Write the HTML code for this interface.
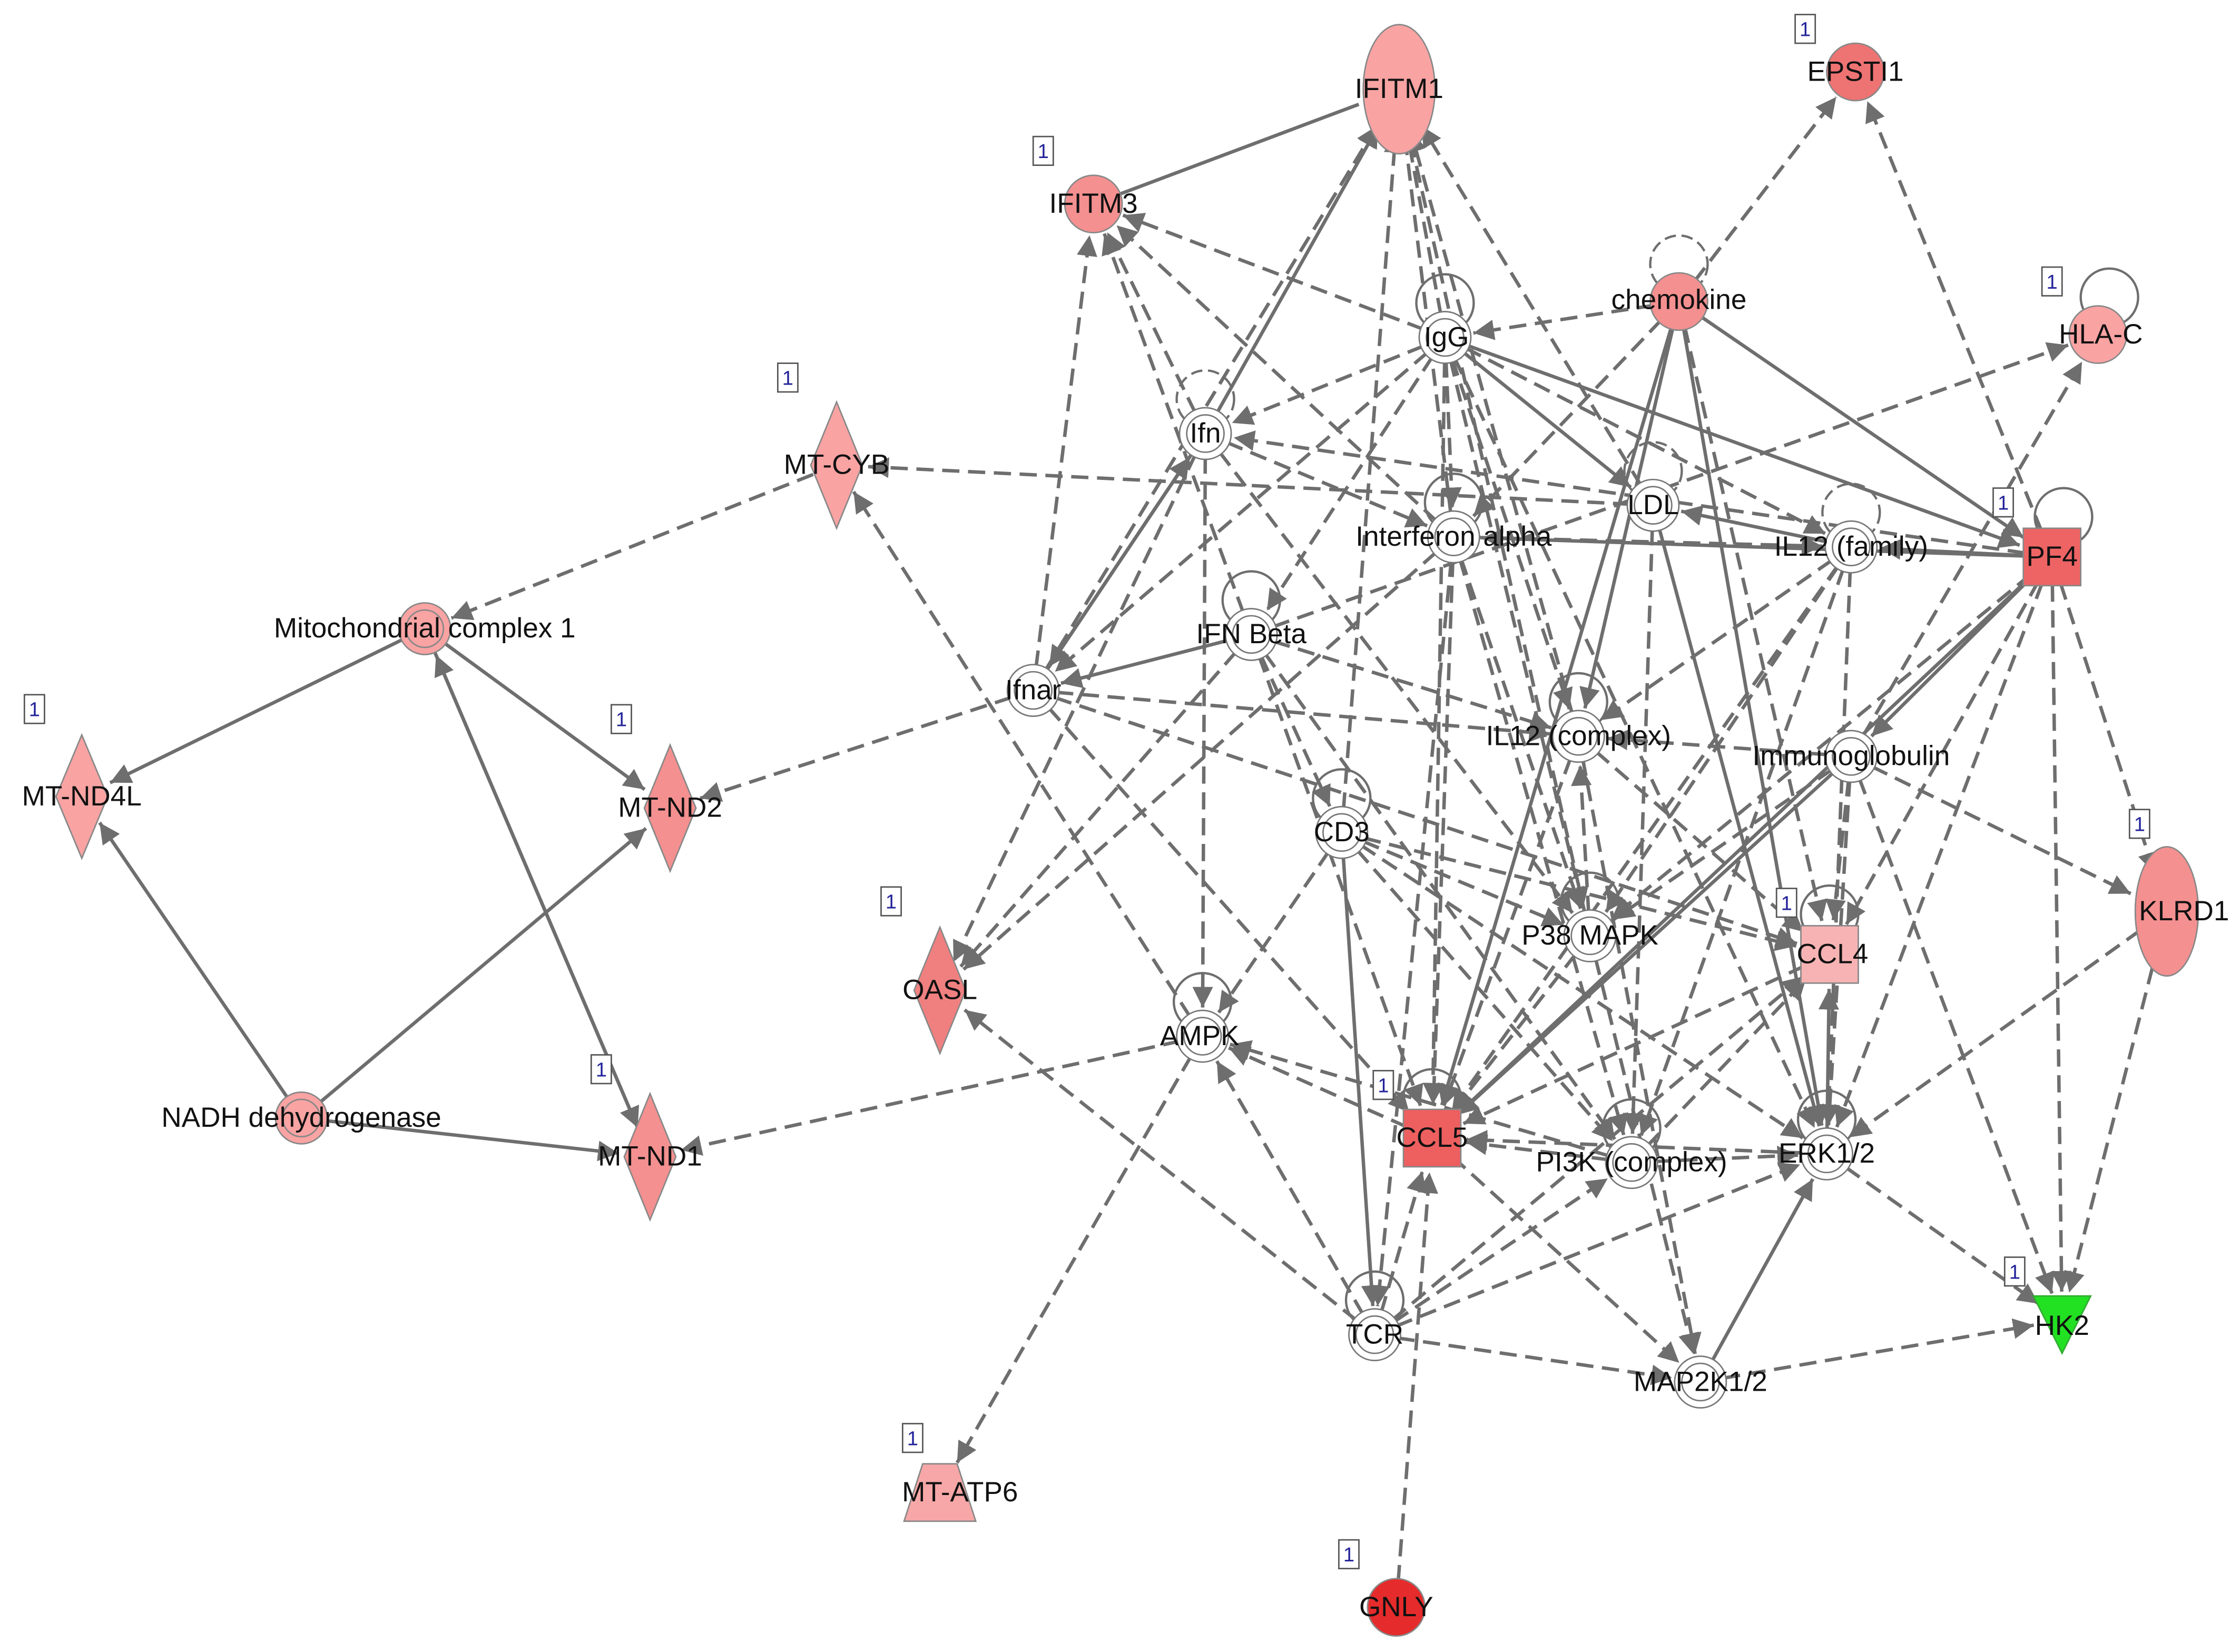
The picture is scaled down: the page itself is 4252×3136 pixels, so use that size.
<!DOCTYPE html>
<html><head><meta charset="utf-8">
<style>
html,body{margin:0;padding:0;background:#fff;}
svg{display:block;}
text{font-family:"Liberation Sans",Arial,sans-serif;}
.lb{font-size:19.5px;fill:#111;text-anchor:middle;dominant-baseline:middle;}
</style></head><body>
<svg id="s" width="4252" height="3136" viewBox="0 0 1561 1151" xmlns="http://www.w3.org/2000/svg" style="position:absolute;left:0;top:0">
<defs>
<marker id="a" viewBox="0 0 10 10" refX="10" refY="5" markerWidth="6" markerHeight="6" markerUnits="strokeWidth" orient="auto"><path d="M0,0 L10,5 L0,10 z" fill="#6e6e6e"/></marker>
</defs>
<g id="edges" fill="none" stroke="#6e6e6e" stroke-width="2.4"></g>
<g id="nodes" stroke="#888" stroke-width="1">
<ellipse cx="975" cy="62" rx="25" ry="45" fill="#f9a3a3"/>
<circle cx="1293" cy="50" r="20" fill="#ee7373"/>
<circle cx="762" cy="142" r="20" fill="#f49090"/>
<circle cx="1170" cy="210" r="20" fill="#f49090"/>
<circle cx="1462" cy="233" r="20" fill="#f9a3a3"/>
<polygon points="583,280 601,324 583,368 565,324" fill="#f9a3a3"/>
<rect x="1410" y="368" width="40" height="40" fill="#ee6464"/>
<circle cx="296" cy="438" r="18" fill="#f9a3a3"/><circle cx="296" cy="438" r="13" fill="none"/>
<polygon points="57,512 75,555 57,598 39,555" fill="#f9a3a3"/>
<polygon points="467,519 485,563 467,607 449,563" fill="#f49090"/>
<ellipse cx="1510" cy="635" rx="22" ry="45" fill="#f49090"/>
<rect x="1255" y="645" width="40" height="40" fill="#f7b3b3"/>
<polygon points="655,646 673,690 655,734 637,690" fill="#f08080"/>
<rect x="978" y="773" width="40" height="40" fill="#ee5f5f"/>
<circle cx="210" cy="779" r="18" fill="#f9a3a3"/><circle cx="210" cy="779" r="13" fill="none"/>
<polygon points="453,762 471,806 453,850 435,806" fill="#f49090"/>
<polygon points="1417,903 1457,903 1437,943" fill="#22e022" stroke="#3a3"/>
<polygon points="643,1020 667,1020 680,1060 630,1060" fill="#f7a7a7"/>
<circle cx="973" cy="1120" r="20" fill="#e52b2b"/>
</g>
<g id="wn" fill="#fff" stroke="#777" stroke-width="1"></g>
<g id="ones" fill="#fff" stroke="#555" stroke-width="1"></g>
<g>
<text class="lb" x="975" y="63">IFITM1</text>
<text class="lb" x="1293" y="51">EPSTI1</text>
<text class="lb" x="762" y="143">IFITM3</text>
<text class="lb" x="1170" y="210">chemokine</text>
<text class="lb" x="1464" y="234">HLA-C</text>
<text class="lb" x="1008" y="236">IgG</text>
<text class="lb" x="840" y="303">Ifn</text>
<text class="lb" x="583" y="325">MT-CYB</text>
<text class="lb" x="1013" y="375">Interferon alpha</text>
<text class="lb" x="1152" y="353">LDL</text>
<text class="lb" x="1290" y="382">IL12 (family)</text>
<text class="lb" x="1430" y="389">PF4</text>
<text class="lb" x="296" y="439">Mitochondrial complex 1</text>
<text class="lb" x="872" y="443">IFN Beta</text>
<text class="lb" x="720" y="482">Ifnar</text>
<text class="lb" x="1100" y="514">IL12 (complex)</text>
<text class="lb" x="1290" y="528">Immunoglobulin</text>
<text class="lb" x="57" y="556">MT-ND4L</text>
<text class="lb" x="467" y="564">MT-ND2</text>
<text class="lb" x="935" y="581">CD3</text>
<text class="lb" x="1522" y="636">KLRD1</text>
<text class="lb" x="1108" y="653">P38 MAPK</text>
<text class="lb" x="1277" y="666">CCL4</text>
<text class="lb" x="655" y="691">OASL</text>
<text class="lb" x="836" y="723">AMPK</text>
<text class="lb" x="998" y="794">CCL5</text>
<text class="lb" x="210" y="780">NADH dehydrogenase</text>
<text class="lb" x="453" y="807">MT-ND1</text>
<text class="lb" x="1137" y="811">PI3K (complex)</text>
<text class="lb" x="1273" y="805">ERK1/2</text>
<text class="lb" x="1437" y="925">HK2</text>
<text class="lb" x="958" y="931">TCR</text>
<text class="lb" x="1185" y="964">MAP2K1/2</text>
<text class="lb" x="669" y="1041">MT-ATP6</text>
<text class="lb" x="973" y="1121">GNLY</text>
</g>
<g font-size="14" fill="#22229a" text-anchor="middle" font-family="Liberation Serif, serif">
<text x="1258" y="25">1</text><text x="727" y="110">1</text><text x="549" y="268">1</text><text x="1430" y="201">1</text><text x="24" y="499">1</text><text x="433" y="506">1</text><text x="1396" y="355">1</text><text x="1491" y="579">1</text><text x="621" y="633">1</text><text x="1245" y="634">1</text><text x="419" y="750">1</text><text x="964" y="761">1</text><text x="1404" y="891">1</text><text x="636" y="1007">1</text><text x="940" y="1088">1</text>
</g>
</svg>
<script>
var N={IFITM1:[975,62,30],EPSTI1:[1293,50,22],IFITM3:[762,142,22],chem:[1170,210,22],HLAC:[1462,233,22],IgG:[1007,235,20],Ifn:[840,302,20],MTCYB:[583,324,22],IFNa:[1013,374,20],LDL:[1152,352,20],IL12f:[1290,381,20],PF4:[1430,388,24],Mito:[296,438,20],IFNb:[872,442,20],Ifnar:[720,481,20],IL12c:[1100,513,20],Ig:[1290,527,20],ND4L:[57,555,22],ND2:[467,563,22],CD3:[935,580,20],KLRD1:[1510,635,28],P38:[1108,652,20],CCL4:[1275,665,24],OASL:[655,690,22],AMPK:[838,722,20],CCL5:[998,793,24],NADH:[210,779,20],ND1:[453,806,22],PI3K:[1137,810,20],ERK:[1273,804,20],HK2:[1437,920,20],TCR:[958,930,20],MAP2K:[1185,963,20],ATP6:[655,1040,24],GNLY:[973,1120,22]};
var E="IFITM3 IFITM1 s0;IgG IFITM1 d;Ifn IFITM1 s;IFNa IFITM1 d;IL12c IFITM1 d;LDL IFITM1 d;CD3 IFITM1 d;Ifnar IFITM1 d;P38 IFITM1 d;IgG IFITM3 d;Ifn IFITM3 d;IFNb IFITM3 d;Ifnar IFITM3 d;IFNa IFITM3 d;chem EPSTI1 d;PF4 EPSTI1 d;Ig HLAC d;IFNb HLAC d;chem PF4 s;chem IgG d;chem CCL5 s;chem ERK s;chem CCL4 d;chem IL12c s;IgG Ifn d;IgG LDL s;IgG PF4 s;IgG CCL5 d;IgG P38 d;IgG IL12c d;IgG IL12f d;IgG Ifnar d;IgG IFNb d;LDL MTCYB d;AMPK MTCYB d;Ifn Ifnar s;Ifnar Ifn s;Ifn AMPK d;Ifn OASL d;Ifn IFNa d;IFNa OASL d;IFNb Ifnar s;IFNb OASL d;IFNb CCL5 d;Ifnar ND2 d;Ifnar IL12c d;Ifnar CCL4 d;Ifnar CCL5 d;IL12f LDL s;PF4 IL12f s;PF4 IFNa s;PF4 Ifn d;PF4 CCL5 s;PF4 CCL4 d;PF4 P38 d;PF4 ERK d;PF4 KLRD1 d;PF4 HK2 d;PF4 Ig s;Ig CCL5 s;Ig KLRD1 d;Ig HK2 d;Ig P38 d;Ig IL12c d;CD3 CCL4 d;CD3 P38 d;CD3 TCR s;CD3 PI3K d;CD3 ERK d;CD3 AMPK d;P38 CCL5 d;P38 IL12c d;P38 MAP2K d;CCL4 CCL5 d;ERK CCL4 s;ERK CCL5 d;PI3K CCL4 d;PI3K ERK d;PI3K CCL5 d;AMPK ATP6 d;AMPK ND1 d;CCL5 AMPK d;PI3K AMPK d;TCR AMPK d;TCR OASL d;TCR CCL5 d;TCR PI3K d;TCR ERK d;TCR MAP2K d;TCR CCL4 d;GNLY CCL5 d;MAP2K ERK s;MAP2K HK2 d;ERK HK2 d;KLRD1 ERK d;CCL5 MAP2K d;IL12c MAP2K d;IFNa CCL5 d;IL12c CCL5 d;IL12f CCL5 d;IL12f ERK d;LDL ERK s;IL12f PI3K d;MTCYB Mito d;Mito ND4L s;Mito ND2 s;NADH ND4L s;NADH ND2 s;NADH ND1 s;ND1 Mito s;Mito ND1 s;IFNa IL12f d;IFNb IL12c d;Ifn P38 d;IFNa P38 d;IL12f IL12c d;IL12c CCL4 d;IFNb CD3 d;IgG ERK d;IFNa PI3K d;LDL PI3K d;IL12f P38 d;chem IFNa d;IgG IFNa d;Ig CCL4 d;IFNa TCR d;IFNb PI3K d;Ig ERK d;KLRD1 HK2 d".split(";");
var ns="http://www.w3.org/2000/svg",g=document.getElementById("edges");
E.forEach(function(e){var p=e.split(" "),a=N[p[0]],b=N[p[1]];var dx=b[0]-a[0],dy=b[1]-a[1],L=Math.hypot(dx,dy),ux=dx/L,uy=dy/L;
var l=document.createElementNS(ns,"line");l.setAttribute("x1",a[0]+ux*a[2]*0.8);l.setAttribute("y1",a[1]+uy*a[2]*0.8);l.setAttribute("x2",b[0]-ux*b[2]);l.setAttribute("y2",b[1]-uy*b[2]);
if(p[2][0]=="d")l.setAttribute("stroke-dasharray","12 6");if(p[2]!="s0")l.setAttribute("marker-end","url(#a)");g.appendChild(l);});
["IgG","IFNa","IFNb","IL12c","CD3","P38","CCL4","ERK","TCR","AMPK","Ifn","chem","LDL","IL12f","HLAC","PF4","PI3K","CCL5"].forEach(function(k){var n=N[k];var c=document.createElementNS(ns,"circle");c.setAttribute("cx",n[0]+(k=="HLAC"||k=="PF4"?8:0));c.setAttribute("cy",n[1]-n[2]-4);c.setAttribute("r",20);c.setAttribute("stroke-width","1.6");if(k=="Ifn"||k=="chem"||k=="LDL"||k=="IL12f")c.setAttribute("stroke-dasharray","8 4");g.appendChild(c);});
var w=document.getElementById("wn");
["IgG","Ifn","IFNa","LDL","IL12f","IFNb","Ifnar","IL12c","Ig","CD3","P38","AMPK","PI3K","ERK","TCR","MAP2K"].forEach(function(k){var n=N[k];[18,13].forEach(function(r){var c=document.createElementNS(ns,"circle");c.setAttribute("cx",n[0]);c.setAttribute("cy",n[1]);c.setAttribute("r",r);w.appendChild(c);});});
var O=[[1258,20],[727,105],[549,263],[1430,196],[24,494],[433,501],[1396,350],[1491,574],[621,628],[1245,629],[419,745],[964,756],[1404,886],[636,1002],[940,1083]];
var og=document.getElementById("ones");O.forEach(function(o){var r=document.createElementNS(ns,"rect");r.setAttribute("x",o[0]-7);r.setAttribute("y",o[1]-10);r.setAttribute("width",14);r.setAttribute("height",20);og.appendChild(r);});
</script>
</body></html>
